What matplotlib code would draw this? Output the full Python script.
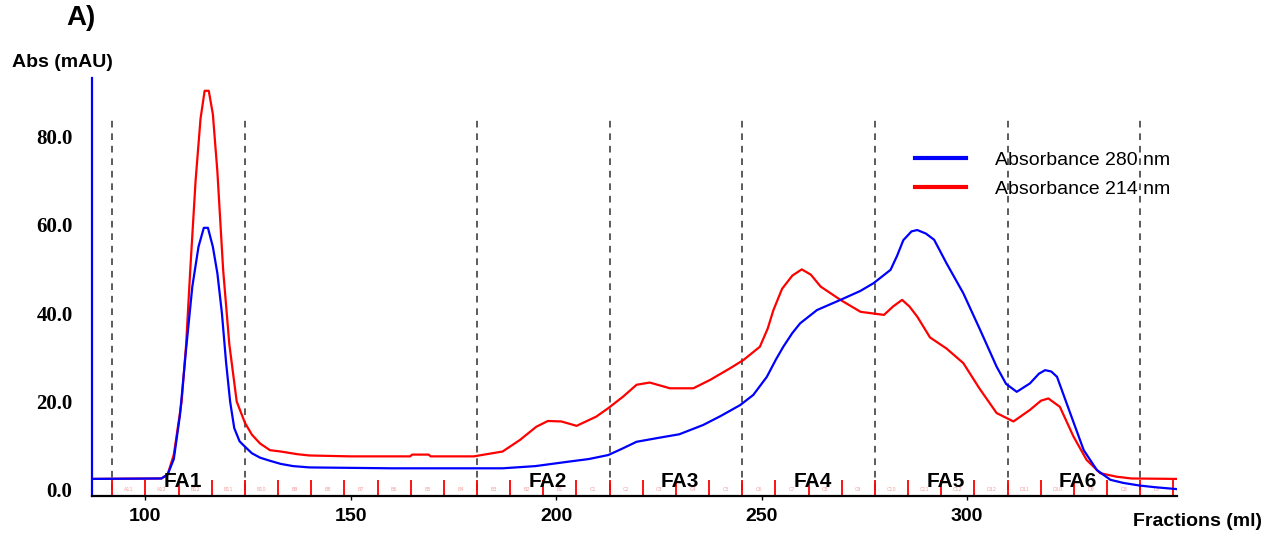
"""Anion-exchange chromatogram: fractions FA1-FA6 at 280 and 214 nm."""

import matplotlib

matplotlib.use("Agg")
import matplotlib.pyplot as plt
import numpy as np

# --- traces (elution volume in ml, absorbance in mAU)
vol_280 = [87, 104.0, 105.5, 107, 108.5, 110, 111.5, 113, 114.3, 115.3, 116.5,
           117.6, 118.7, 119.7, 120.7, 121.7, 123, 124.3, 126, 128, 130.4, 133,
           136, 140, 150, 160, 170, 180, 187, 195, 203, 208, 212.7, 216, 219.6,
           225, 230, 235.8, 240, 244.8, 248, 251.3, 253.5, 255.3, 257.5, 259.4,
           263.5, 269.2, 274, 277.3, 281.4, 283, 284.5, 286.5, 287.9, 290, 292,
           295, 299.1, 303.2, 307.2, 309.5, 312.1, 315.3, 317.5, 319, 320.5,
           321.9, 325.1, 328.4, 331.6, 334.9, 338, 342, 346, 351]
abs_280 = [2.5, 2.6, 3.5, 7, 17, 32, 46, 55, 59.3, 59.3, 55,
           49, 40, 29, 20, 14, 11, 9.8, 8.3, 7.3, 6.6, 5.9,
           5.4, 5.1, 5.0, 4.9, 4.9, 4.9, 4.9, 5.4, 6.4, 7.0, 7.9, 9.3, 10.9,
           11.8, 12.6, 14.7, 16.7, 19.2, 21.5, 25.6, 29.5, 32.4, 35.5, 37.7,
           40.7, 43, 45, 46.8, 49.8, 53, 56.5, 58.5, 58.8, 58, 56.6,
           51.3, 44.5, 36.2, 27.9, 24, 22.2, 24.1, 26.3, 27.1, 26.8,
           25.6, 17.4, 9, 4.5, 2.3, 1.6, 1.0, 0.6, 0.2]

vol_214 = [87, 104, 105.5, 107, 108.9, 110, 111, 112.3, 113.5, 114.5, 115.5,
           116.5, 117.6, 119, 120.5, 122.3, 124.3, 126, 128, 130.4, 133, 137,
           140, 150, 160, 164.5, 165, 169, 169.5, 175, 180, 187, 191.2, 195.2,
           198, 201.3, 205, 209.8, 212.7, 216.3, 219.6, 222.8, 227.7, 233.4,
           237.5, 242.3, 245.6, 249.6, 251.5, 252.9, 255, 257.5, 259.8, 262,
           264.4, 269.2, 274.1, 279.8, 282, 284.2, 286, 287.9, 291, 295, 299.1,
           303, 307.2, 311.3, 315.3, 318, 319.8, 322.6, 325.9, 329.1, 332.4,
           336.4, 340, 351]
abs_214 = [2.5, 2.6, 3.5, 8, 20, 33, 49.8, 70, 84, 90.3, 90.3,
           85, 72, 49.8, 33, 20, 15.2, 12.5, 10.5, 9, 8.7, 8.1,
           7.8, 7.6, 7.6, 7.6, 8.0, 8.0, 7.6, 7.6, 7.6, 8.7, 11.3, 14.3,
           15.6, 15.5, 14.5, 16.6, 18.5, 21.1, 23.8, 24.3, 23, 23,
           24.9, 27.5, 29.4, 32.4, 36.5, 40.7, 45.5, 48.5, 49.9, 48.7,
           46, 43, 40.3, 39.6, 41.5, 43, 41.5, 39.2, 34.5, 32, 28.7,
           23, 17.4, 15.5, 18.1, 20.2, 20.7, 18.8, 12.1, 6.8, 3.8,
           3.0, 2.6, 2.5]

# --- fraction collector: first tube edge, tube volume, tube names (serpentine)
frac_start = 92.0
frac_size = 8.07
frac_names = ["A11", "A12",
              "B12", "B11", "B10", "B9", "B8", "B7", "B6", "B5", "B4", "B3", "B2", "B1",
              "C1", "C2", "C3", "C4", "C5", "C6", "C7", "C8", "C9", "C10", "C11", "C12",
              "D12", "D11", "D10", "D9", "D8", "D7"]

# pooled fractions, cut at tube edges (tube index of each cut)
pool_names = ["FA1", "FA2", "FA3", "FA4", "FA5", "FA6"]
pool_cuts = [0, 4, 11, 15, 19, 23, 27, 31]

x_ticks = [100, 150, 200, 250, 300]
y_ticks = [0, 20, 40, 60, 80]

frac_edges = frac_start + frac_size * np.arange(len(frac_names) + 1)
cut_pos = frac_edges[pool_cuts]
# FA1 spans cuts 0-1, the rest are consecutive pairs from cut 2 onwards
pool_spans = [(cut_pos[0], cut_pos[1])] + list(zip(cut_pos[2:-1], cut_pos[3:]))

fig = plt.figure(figsize=(12.73, 5.34), dpi=100)
ax = fig.add_axes([0.0723, 0.0712, 0.8523, 0.7828])
ylo, yhi = -1.36, 93.2
ax.set_xlim(87.1, 351.1)
ax.set_ylim(ylo, yhi)

# tube markers along the baseline
ax.vlines(frac_edges, ylo, 2.2, color="#ff0000", lw=1.3, zorder=2)
for i, name in enumerate(frac_names):
    ax.text((frac_edges[i] + frac_edges[i + 1]) / 2, 0.1, name, fontsize=3.5,
            color="#f4a0a0", ha="center", va="center", zorder=2)

# pool cut lines
ax.vlines(cut_pos, 0, 84.2, color="#404040", lw=1.2, linestyles=(0, (4, 3.5)),
          zorder=1)

ax.plot(vol_214, abs_214, color="#ff0000", lw=1.6, zorder=3,
        label="Absorbance 214 nm")
ax.plot(vol_280, abs_280, color="#0000ff", lw=1.6, zorder=4,
        label="Absorbance 280 nm")

for name, (a, b) in zip(pool_names, pool_spans):
    ax.text((a + b) / 2 + 1.0, 2.0, name, fontsize=15, fontweight="bold",
            family="Liberation Sans", ha="center", va="center", zorder=5)

for side in ("top", "right"):
    ax.spines[side].set_visible(False)
ax.spines["left"].set_color("#0000ff")
ax.spines["left"].set_linewidth(1.6)
ax.spines["bottom"].set_color("black")
ax.spines["bottom"].set_linewidth(1.6)

ax.set_xticks(x_ticks)
ax.set_xticklabels([str(v) for v in x_ticks], fontsize=14, fontweight="bold",
                   family="Liberation Sans")
ax.set_yticks(y_ticks)
ax.set_yticklabels([f"{v:.1f}" for v in y_ticks], fontsize=15,
                   fontweight="bold", family="Liberation Serif")
ax.tick_params(axis="x", length=3, width=1, pad=6)
ax.tick_params(axis="y", length=0, pad=14)

handles, labels = ax.get_legend_handles_labels()
ax.legend(handles[::-1], labels[::-1], loc="upper left",
          bbox_to_anchor=(0.7585, 0.825), frameon=False, handlelength=2.6,
          handletextpad=1.5, labelspacing=0.6, borderpad=0, borderaxespad=0,
          prop={"family": "Liberation Sans", "size": 14})
for line in ax.get_legend().get_lines():
    line.set_linewidth(3)

fig.text(66 / 1273, 1 - 18 / 534, "A)", fontsize=20, fontweight="bold",
         family="Liberation Sans", ha="left", va="center")
fig.text(12 / 1273, 1 - 62 / 534, "Abs (mAU)", fontsize=14, fontweight="bold",
         family="Liberation Sans", ha="left", va="center")
fig.text(1262 / 1273, 1 - 521 / 534, "Fractions (ml)", fontsize=14,
         fontweight="bold", family="Liberation Sans", ha="right", va="center")

fig.savefig("out.png", dpi=100)
